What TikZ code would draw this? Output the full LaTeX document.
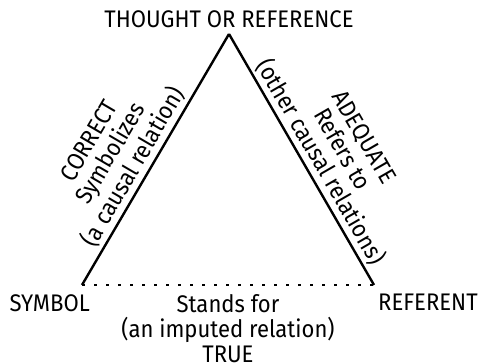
\documentclass[tikz,border=0pt]{standalone}
\usepackage{fontspec}
\setmainfont{Fira Sans}[FakeStretch=0.92]
\usetikzlibrary{positioning}

\begin{document}
\begin{tikzpicture}[
  x=1pt, y=1pt,
  every node/.style={font=\fontsize{24}{25}\selectfont, inner sep=0pt},
  side/.style={line width=2.4pt, draw=black},
  dots/.style={line width=2.6pt, dash pattern=on 2.6pt off 9.4pt},
  lbl/.style={align=center}
]
\useasboundingbox (0,0) rectangle (485,364);
% corners of the triangle
\coordinate (apex) at (229,330);
\coordinate (sym) at (82,79);
\coordinate (ref) at (374,79);
% corner labels
\node[above=6pt of apex] (thought) {THOUGHT OR REFERENCE};
\node[anchor=north east] (symbol) at ([xshift=8pt,yshift=-9pt]sym) {SYMBOL};
\node[anchor=north west] (referent) at ([xshift=4pt,yshift=-9pt]ref) {REFERENT};
% sides
\draw[side] (apex) -- node[sloped, above=3pt, pos=0.56, lbl] (correct) {CORRECT\\Symbolizes\\(a causal relation)} (sym);
\draw[side] (apex) -- node[sloped, above=3pt, pos=0.54, lbl] (adequate) {ADEQUATE\\Refers to\\(other causal relations)} (ref);
\draw[dots] (sym) -- node[below=8pt, lbl] (standsfor) {Stands for\\(an imputed relation)\\TRUE} (ref);
\end{tikzpicture}
\end{document}
